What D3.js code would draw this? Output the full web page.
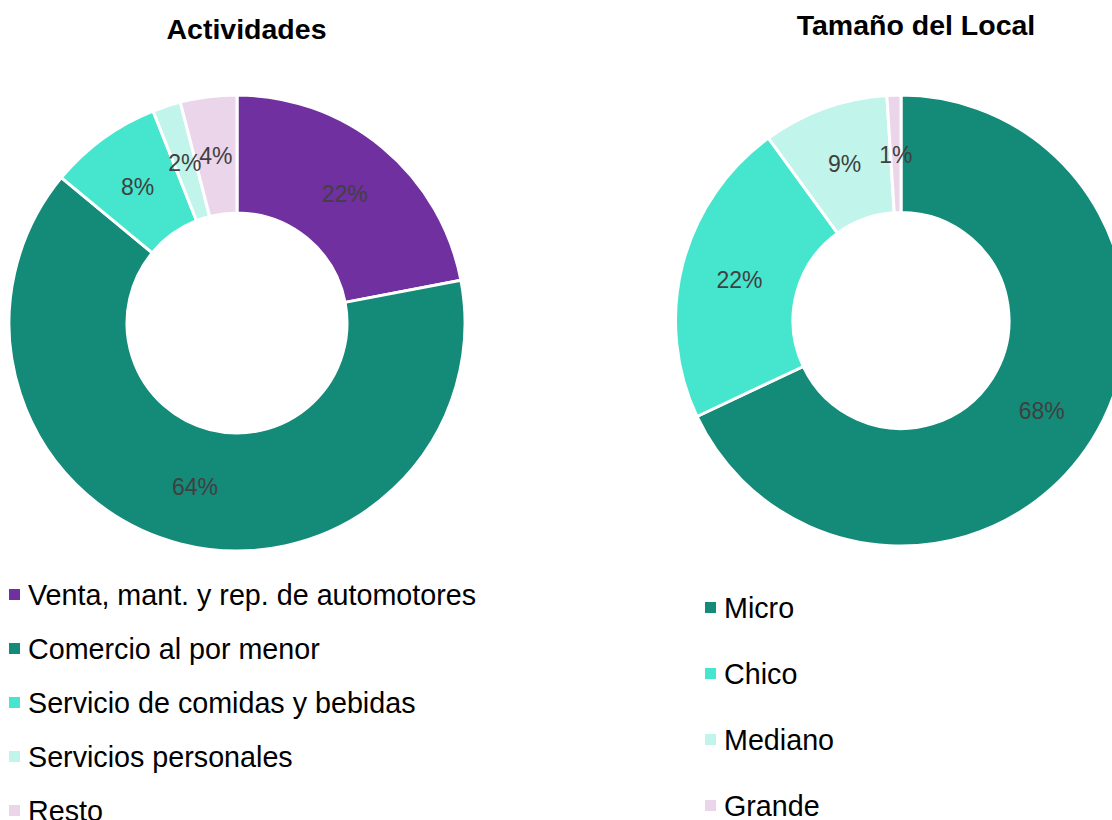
<!DOCTYPE html>
<html>
<head>
<meta charset="utf-8">
<script src="https://cdn.jsdelivr.net/npm/d3@7.9.0/dist/d3.min.js"></script>
<style>
  body { margin: 0; background: #fff; }
  svg { display: block; font-family: "Liberation Sans", Arial, sans-serif; }
</style>
</head>
<body>
<div id="chart"></div>
<script>
// activity breakdown
const actLabels = ["Venta, mant. y rep. de automotores", "Comercio al por menor",
  "Servicio de comidas y bebidas", "Servicios personales", "Resto"];
const actValues = [22, 64, 8, 2, 4];
const actColors = ["#7030A0", "#148A78", "#45E6CD", "#C1F5EC", "#EBD5EA"];

// store size breakdown
const sizeLabels = ["Micro", "Chico", "Mediano", "Grande"];
const sizeValues = [68, 22, 9, 1];
const sizeColors = ["#148A78", "#45E6CD", "#C1F5EC", "#EBD5EA"];

const width = 1112;
const height = 820;

const svg = d3.select("#chart")
  .append("svg")
  .attr("width", width)
  .attr("height", height);

// draws one donut with its title and legend
function drawDonut(cfg) {
  const g = svg.append("g").attr("transform", `translate(${cfg.cx},${cfg.cy})`);

  const pie = d3.pie().sort(null).value(d => d.value);
  const arc = d3.arc().innerRadius(cfg.inner).outerRadius(cfg.outer);
  const labelArc = d3.arc()
    .innerRadius((cfg.inner + cfg.outer) / 2)
    .outerRadius((cfg.inner + cfg.outer) / 2);

  const data = cfg.labels.map((l, i) => ({ label: l, value: cfg.values[i], color: cfg.colors[i] }));
  const arcs = pie(data);

  g.selectAll("path")
    .data(arcs)
    .join("path")
    .attr("d", arc)
    .attr("fill", d => d.data.color)
    .attr("stroke", "#fff")
    .attr("stroke-width", 3)
    .attr("stroke-linejoin", "round");

  g.selectAll("text.val")
    .data(arcs)
    .join("text")
    .attr("class", "val")
    .attr("transform", d => `translate(${labelArc.centroid(d)})`)
    .attr("text-anchor", "middle")
    .attr("dy", "0.38em")
    .attr("font-size", 23)
    .attr("fill", "#404040")
    .text(d => `${d.data.value}%`);

  svg.append("text")
    .attr("x", cfg.titleX)
    .attr("y", cfg.titleY)
    .attr("text-anchor", "middle")
    .attr("font-size", 28.5)
    .attr("font-weight", "bold")
    .attr("fill", "#000")
    .text(cfg.title);

  // legend
  const lg = svg.append("g");
  const rows = lg.selectAll("g")
    .data(data)
    .join("g")
    .attr("transform", (d, i) => `translate(${cfg.legX},${cfg.legY + i * cfg.legStep})`);

  rows.append("rect")
    .attr("x", 0)
    .attr("y", -16)
    .attr("width", 11)
    .attr("height", 11)
    .attr("fill", d => d.color);

  rows.append("text")
    .attr("x", 19)
    .attr("y", 0)
    .attr("font-size", 28.7)
    .attr("fill", "#000")
    .text(d => d.label);
}

drawDonut({
  title: "Actividades", titleX: 246.5, titleY: 39,
  labels: actLabels, values: actValues, colors: actColors,
  cx: 237, cy: 323, outer: 228, inner: 110,
  legX: 9, legY: 605, legStep: 54
});

drawDonut({
  title: "Tamaño del Local", titleX: 916, titleY: 35,
  labels: sizeLabels, values: sizeValues, colors: sizeColors,
  cx: 901, cy: 320.5, outer: 225.5, inner: 108,
  legX: 705, legY: 618, legStep: 66
});
</script>
</body>
</html>
